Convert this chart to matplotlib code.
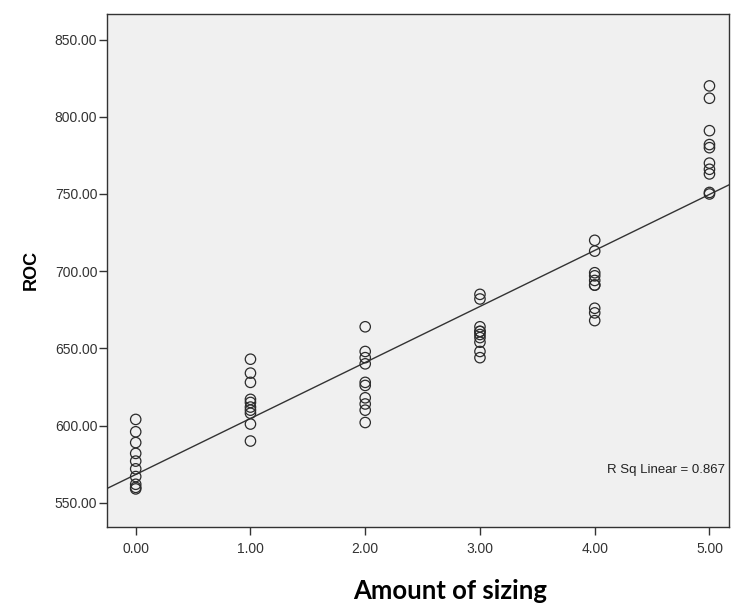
"""Scatter of ROC vs amount of sizing with linear fit (SPSS style)."""

import numpy as np
import matplotlib
matplotlib.use('Agg')
import matplotlib.pyplot as plt

# Data
sizing_levels = [0.0, 1.0, 2.0, 3.0, 4.0, 5.0]
roc_0 = [604, 596, 589, 582, 577, 572, 567, 562, 560, 559]
roc_1 = [643, 634, 628, 617, 615, 612, 610, 608, 601, 590]
roc_2 = [664, 648, 644, 640, 628, 626, 618, 614, 610, 602]
roc_3 = [685, 682, 664, 661, 661, 659, 657, 654, 648, 644]
roc_4 = [720, 713, 699, 697, 694, 691, 691, 676, 673, 668]
roc_5 = [820, 812, 791, 782, 780, 770, 766, 763, 751, 750]
roc_groups = [roc_0, roc_1, roc_2, roc_3, roc_4, roc_5]

y_ticks = [550, 600, 650, 700, 750, 800, 850]
r_sq_label = 'R Sq Linear = 0.867'

x_vals = np.concatenate([[lvl] * len(g) for lvl, g in zip(sizing_levels, roc_groups)])
y_vals = np.concatenate(roc_groups)

plt.rcParams['font.family'] = ['Liberation Sans', 'DejaVu Sans']

fig = plt.figure(figsize=(7.33, 6.05), dpi=100)
ax = fig.add_axes([0.1460, 0.1291, 0.8485, 0.8481])
ax.set_facecolor('#f0f0f0')

xlim = (-0.25, 5.17)
ylim = (534.4, 866.7)

# Fit line spans the whole plot width
slope, intercept = np.polyfit(x_vals, y_vals, 1)
line_x = np.array(xlim)
ax.plot(line_x, intercept + slope * line_x, color='#333333', linewidth=1.0, zorder=2)

ax.scatter(x_vals, y_vals, s=56, facecolors='none', edgecolors='#2b2b2b',
           linewidths=0.9, zorder=3)

ax.set_xlim(*xlim)
ax.set_ylim(*ylim)
ax.set_xticks(sizing_levels)
ax.set_xticklabels([f'{v:.2f}' for v in sizing_levels])
ax.set_yticks(y_ticks)
ax.set_yticklabels([f'{v:.2f}' for v in y_ticks])

ax.tick_params(axis='both', direction='out', length=6, width=1, color='#333333',
               labelsize=10, labelcolor='#333333', pad=1)
ax.tick_params(axis='x', pad=5)
for side in ['left', 'bottom', 'top', 'right']:
    ax.spines[side].set_color('#333333')
    ax.spines[side].set_linewidth(1.0)

ax.set_ylabel('ROC', fontsize=13, fontweight='bold')
ax.yaxis.set_label_coords(-0.108, 0.5)
ax.set_xlabel('Amount of sizing', fontsize=18.5, fontweight='bold',
              family=['Lato', 'DejaVu Sans'])
ax.xaxis.set_label_coords(0.551, -0.102)

ax.text(0.993, 0.111, r_sq_label, transform=ax.transAxes, fontsize=9.5,
        color='#222222', ha='right', va='center')

fig.savefig('out.png', dpi=100, facecolor='white')
